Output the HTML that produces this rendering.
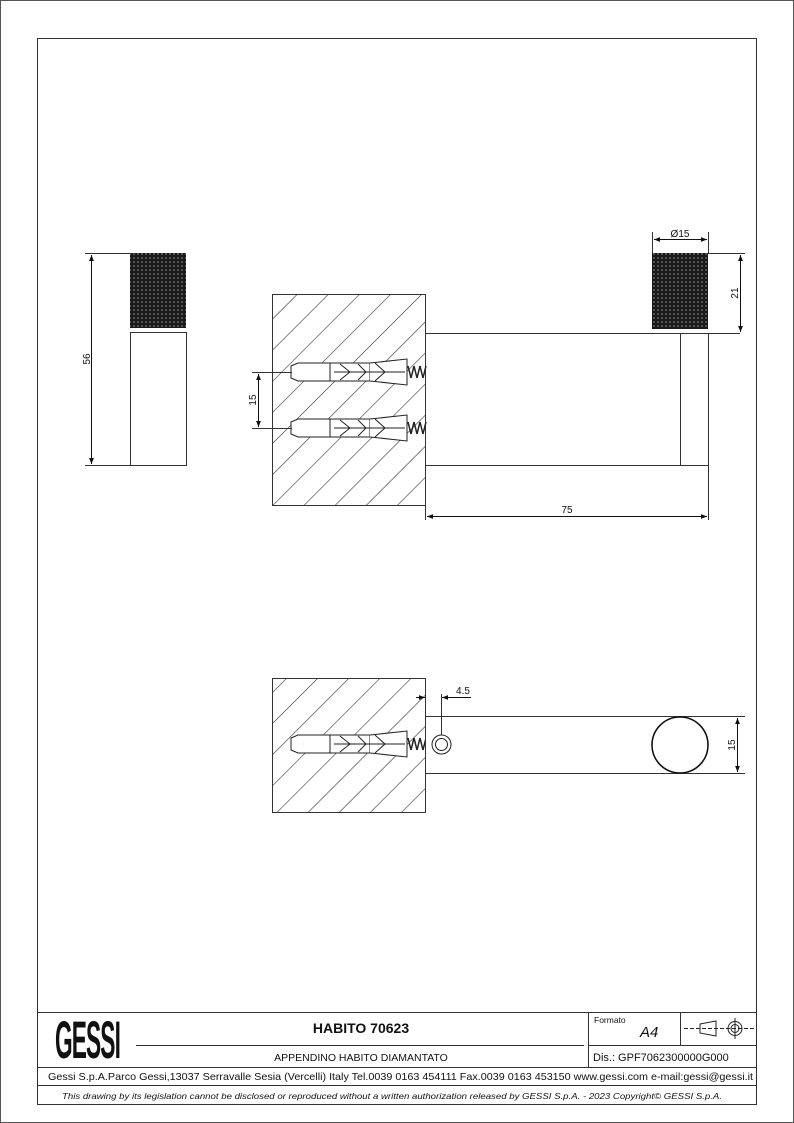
<!DOCTYPE html>
<html><head><meta charset="utf-8"><style>
html,body{margin:0;padding:0;background:#fff}
svg{display:block}
text{font-family:"Liberation Sans",sans-serif;fill:#111}
</style></head><body>
<svg width="794" height="1123" viewBox="0 0 794 1123" xmlns="http://www.w3.org/2000/svg">
<defs>
<pattern id="h" width="22" height="22" patternUnits="userSpaceOnUse" patternTransform="rotate(45)">
<line x1="0" y1="0" x2="0" y2="22" stroke="#333" stroke-width="1.2"/>
</pattern>
<pattern id="k" width="4" height="4" patternUnits="userSpaceOnUse">
<rect width="4" height="4" fill="#1a1a1a"/><circle cx="2" cy="2" r="0.8" fill="#999"/>
</pattern>
<marker id="a" viewBox="0 0 10 10" refX="10" refY="5" markerWidth="8" markerHeight="6" orient="auto-start-reverse" markerUnits="userSpaceOnUse"><path d="M0,1 L10,5 L0,9z" fill="#111"/></marker>
<g id="anchor">
<path d="M291,-6 L298,-9 L330,-9 L330,9 L298,9 L291,6z" fill="#fff" stroke="#222"/>
<rect x="330" y="-9" width="40" height="18" fill="#fff" stroke="#222"/>
<path d="M370,-9 L407,-13 L407,13 L370,9" fill="#fff" stroke="#222"/>
<line x1="334" y1="0" x2="405" y2="0" stroke="#222"/>
<path d="M340,-8 L350,0 L340,8 M358,-8 L366,0 L358,8 M375,-9 L385,0 L375,9" fill="none" stroke="#222"/>
<path d="M408,-6 l3,12 l3,-12 l3,12 l3,-12 l3,12 l3,-12" fill="none" stroke="#222" stroke-width="1.5"/>
</g>
</defs>
<rect x="0.5" y="0.5" width="793" height="1122" fill="none" stroke="#555"/>
<rect x="37.5" y="38.5" width="719" height="1066" fill="none" stroke="#333"/>

<rect x="130" y="253" width="56" height="75" fill="url(#k)"/>
<rect x="130.5" y="332.5" width="56" height="133" fill="#fff" stroke="#333"/>
<line x1="85" y1="253.5" x2="130" y2="253.5" stroke="#333"/>
<line x1="85" y1="465.5" x2="130" y2="465.5" stroke="#333"/>
<line x1="91.5" y1="255" x2="91.5" y2="464" stroke="#111" marker-start="url(#a)" marker-end="url(#a)"/>
<text x="90" y="359" font-size="10" transform="rotate(-90 90 359)" text-anchor="middle">56</text>

<rect x="272.5" y="294.5" width="153" height="211" fill="url(#h)" stroke="#333"/>
<rect x="426" y="333" width="282" height="132" fill="#fff"/>
<g transform="translate(0,372)"><use href="#anchor"/></g>
<g transform="translate(0,428)"><use href="#anchor"/></g>
<line x1="426" y1="333.5" x2="740" y2="333.5" stroke="#333"/>
<line x1="426" y1="465.5" x2="708" y2="465.5" stroke="#333"/>
<line x1="680.5" y1="333" x2="680.5" y2="465" stroke="#333"/>
<line x1="708.5" y1="333" x2="708.5" y2="520" stroke="#333"/>
<line x1="425.5" y1="466" x2="425.5" y2="520" stroke="#333"/>
<rect x="652" y="253" width="56" height="76" fill="url(#k)"/>
<line x1="652.5" y1="232" x2="652.5" y2="253" stroke="#333"/>
<line x1="708.5" y1="232" x2="708.5" y2="253" stroke="#333"/>
<line x1="654" y1="239.5" x2="707" y2="239.5" stroke="#111" marker-start="url(#a)" marker-end="url(#a)"/>
<text x="680" y="237" font-size="10" text-anchor="middle">Ø15</text>
<line x1="708" y1="253.5" x2="745" y2="253.5" stroke="#333"/>
<line x1="740.5" y1="255" x2="740.5" y2="332" stroke="#111" marker-start="url(#a)" marker-end="url(#a)"/>
<text x="738" y="293" font-size="10" transform="rotate(-90 738 293)" text-anchor="middle">21</text>
<line x1="427" y1="516.5" x2="707" y2="516.5" stroke="#111" marker-start="url(#a)" marker-end="url(#a)"/>
<text x="567" y="513" font-size="10" text-anchor="middle">75</text>
<line x1="252" y1="372.5" x2="292" y2="372.5" stroke="#333"/>
<line x1="252" y1="428.5" x2="292" y2="428.5" stroke="#333"/>
<line x1="258.5" y1="374" x2="258.5" y2="427" stroke="#111" marker-start="url(#a)" marker-end="url(#a)"/>
<text x="256" y="400" font-size="10" transform="rotate(-90 256 400)" text-anchor="middle">15</text>

<rect x="272.5" y="678.5" width="153" height="134" fill="url(#h)" stroke="#333"/>
<g transform="translate(0,744)"><use href="#anchor"/></g>
<rect x="426" y="716.5" width="314" height="56.5" fill="#fff" stroke="none"/>
<line x1="426" y1="716.5" x2="745" y2="716.5" stroke="#333"/>
<line x1="426" y1="773.5" x2="745" y2="773.5" stroke="#333"/>
<line x1="425.5" y1="716" x2="425.5" y2="774" stroke="#333"/>
<circle cx="680" cy="745" r="28" fill="none" stroke="#111" stroke-width="1.6"/>
<circle cx="441.5" cy="744.5" r="9.5" fill="none" stroke="#222"/>
<circle cx="441.5" cy="744.5" r="6" fill="none" stroke="#222"/>
<line x1="441.5" y1="694" x2="441.5" y2="735" stroke="#333"/>
<line x1="416" y1="697.5" x2="425" y2="697.5" stroke="#111" marker-end="url(#a)"/>
<line x1="471" y1="697.5" x2="442" y2="697.5" stroke="#111" marker-end="url(#a)"/>
<text x="463" y="694" font-size="10" text-anchor="middle">4.5</text>
<line x1="737.5" y1="718" x2="737.5" y2="772" stroke="#111" marker-start="url(#a)" marker-end="url(#a)"/>
<text x="735" y="745" font-size="10" transform="rotate(-90 735 745)" text-anchor="middle">15</text>

<g stroke="#333" fill="none">
<line x1="37" y1="1012.5" x2="757" y2="1012.5"/>
<line x1="37" y1="1067.5" x2="757" y2="1067.5"/>
<line x1="37" y1="1085.5" x2="757" y2="1085.5"/>
<line x1="588.5" y1="1012" x2="588.5" y2="1067"/>
<line x1="680.5" y1="1012" x2="680.5" y2="1045"/>
<line x1="588" y1="1045.5" x2="757" y2="1045.5"/>
<line x1="136" y1="1045.5" x2="584" y2="1045.5"/>
</g>
<text x="0" y="0" font-size="52" font-weight="bold" transform="translate(55,1058) scale(0.5,1.02)" textLength="130" lengthAdjust="spacingAndGlyphs" letter-spacing="-2">GESSI</text>
<text x="361" y="1033" font-size="14" font-weight="bold" text-anchor="middle">HABITO 70623</text>
<text x="361" y="1061" font-size="10.5" text-anchor="middle">APPENDINO HABITO DIAMANTATO</text>
<text x="594" y="1023" font-size="8.5">Formato</text>
<text x="640" y="1037" font-size="15" font-style="italic">A4</text>
<text x="593" y="1061" font-size="11">Dis.: GPF7062300000G000</text>
<g stroke="#222" fill="none">
<path d="M700,1024 L716,1021 L716,1036 L700,1033z"/>
<line x1="684" y1="1028.5" x2="755" y2="1028.5" stroke-dasharray="4,2"/>
<circle cx="735" cy="1028.5" r="7"/><circle cx="735" cy="1028.5" r="4"/>
<line x1="735" y1="1018" x2="735" y2="1039"/>
</g>
<text x="48" y="1080" font-size="10.5" textLength="705" lengthAdjust="spacingAndGlyphs">Gessi S.p.A.Parco Gessi,13037 Serravalle Sesia (Vercelli) Italy Tel.0039 0163 454111 Fax.0039 0163 453150 www.gessi.com e-mail:gessi@gessi.it</text>
<text x="62" y="1099" font-size="8.5" font-style="italic" textLength="660" lengthAdjust="spacingAndGlyphs">This drawing by its legislation cannot be disclosed or reproduced without a written authorization released by GESSI S.p.A. - 2023 Copyright© GESSI S.p.A.</text>
</svg>
</body></html>
